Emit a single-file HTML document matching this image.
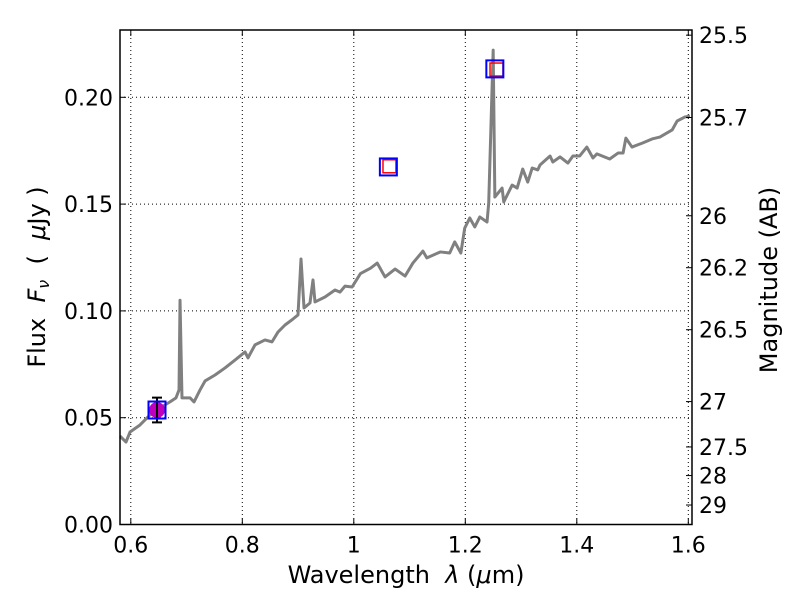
<!DOCTYPE html>
<html><head><meta charset="utf-8"><style>
body{margin:0;background:#fff;}
svg text{font-family:"DejaVu Sans","Liberation Sans",sans-serif;fill:#000;}
</style></head><body>
<svg id="chart" width="800" height="600" viewBox="0 0 800 600" xmlns="http://www.w3.org/2000/svg">
<rect width="800" height="600" fill="#fff"/>
<g id="grid"></g>
<g id="spec"></g>
<g id="phot"></g>
<g id="axes"></g>
<text x="406" y="583" font-size="24" text-anchor="middle" xml:space="preserve">Wavelength  <tspan font-style="italic">λ</tspan> (<tspan font-style="italic">μ</tspan>m)</text>
<text transform="translate(45,277) rotate(-90)" font-size="24" text-anchor="middle" xml:space="preserve">Flux  <tspan font-style="italic">F</tspan><tspan font-style="italic" font-size="16" dy="4">ν</tspan><tspan dy="-4">  (  </tspan><tspan font-style="italic">μ</tspan>Jy )</text>
<text transform="translate(777,280) rotate(-90)" font-size="24" text-anchor="middle">Magnitude (AB)</text>
</svg>
<script>
const specLam=[0.5806,0.5914,0.5986,0.6165,0.6344,0.6524,0.6703,0.6811,0.6865,0.6883,0.6918,0.7062,0.7134,0.7242,0.7332,0.7511,0.7690,0.7869,0.8049,0.8102,0.8228,0.8407,0.8533,0.8640,0.8766,0.8909,0.8999,0.9053,0.9107,0.9214,0.9268,0.9304,0.9483,0.9663,0.9753,0.9842,0.997,1.012,1.030,1.042,1.056,1.074,1.092,1.106,1.124,1.131,1.155,1.172,1.181,1.192,1.199,1.208,1.217,1.226,1.239,1.242,1.250,1.253,1.266,1.269,1.284,1.293,1.303,1.312,1.320,1.330,1.334,1.352,1.357,1.370,1.384,1.393,1.405,1.418,1.429,1.436,1.459,1.474,1.483,1.488,1.499,1.518,1.535,1.549,1.571,1.580,1.594,1.603];
const specFlux=[0.0414,0.0386,0.0433,0.0466,0.0513,0.0546,0.0574,0.0593,0.0630,0.1050,0.0593,0.0593,0.0574,0.0630,0.0672,0.0700,0.0733,0.0770,0.0808,0.0780,0.0841,0.0864,0.0855,0.0901,0.0934,0.0962,0.0981,0.1243,0.1014,0.1037,0.1145,0.1042,0.1065,0.1098,0.1088,0.1116,0.1112,0.1175,0.1200,0.1224,0.1159,0.1196,0.1163,0.1224,0.1280,0.1248,0.1276,0.1271,0.1323,0.1271,0.1388,0.1435,0.1393,0.1440,0.1416,0.1505,0.2221,0.1533,0.1575,0.1510,0.1589,0.1575,0.1664,0.1603,0.1669,0.1660,0.1683,0.1725,0.1697,0.1721,0.1692,0.1725,0.1725,0.1767,0.1716,0.1735,0.1711,0.1739,0.1739,0.1809,0.1767,0.1786,0.1805,0.1814,0.1847,0.1889,0.1908,0.1912];
const photLam=[0.647,1.062,1.253];
const photFlux=[0.0536,0.1674,0.2133];
const measLam=[0.647];
const measFlux=[0.0536];
const measErr=[0.0058];
const modelLam=[1.064,1.256];
const modelFlux=[0.1677,0.2130];
const xTicks=[0.6,0.8,1.0,1.2,1.4,1.6];
const xTickLabels=["0.6","0.8","1","1.2","1.4","1.6"];
const yTicks=[0,0.05,0.10,0.15,0.20];
const yTickLabels=["0.00","0.05","0.10","0.15","0.20"];
const magTicks=[25.5,25.7,26,26.2,26.5,27,27.5,28,29];
const magTickLabels=["25.5","25.7","26","26.2","26.5","27","27.5","28","29"];

const L=120,R=692,T=30,B=524.5;
const X=l=>130.8+(l-0.6)*557.5;
const Y=f=>B-f*2136;
const NS="http://www.w3.org/2000/svg";
function mk(p,tag,at){const e=document.createElementNS(NS,tag);for(const k in at)e.setAttribute(k,at[k]);p.appendChild(e);return e;}
const grid=document.getElementById('grid'),axes=document.getElementById('axes'),spec=document.getElementById('spec'),phot=document.getElementById('phot');
xTicks.forEach((v,i)=>{const x=X(v);
 const g=mk(grid,'line',{x1:x,x2:x,y1:T,y2:B,stroke:'#000','stroke-width':1,'stroke-dasharray':'1,3'});
 
 
 mk(axes,'line',{x1:x,x2:x,y1:B,y2:B-6,stroke:'#000'});
 mk(axes,'line',{x1:x,x2:x,y1:T,y2:T+6,stroke:'#000'});
 const t=mk(axes,'text',{x:x,y:B+28,'font-size':22,'text-anchor':'middle'});t.textContent=xTickLabels[i];
 
 
});
yTicks.forEach((v,i)=>{const y=Y(v);
 const g=mk(grid,'line',{x1:L,x2:R,y1:y,y2:y,stroke:'#000','stroke-width':1,'stroke-dasharray':'1,3'});
 
 
 mk(axes,'line',{x1:L,x2:L+6,y1:y,y2:y,stroke:'#000'});
 const t=mk(axes,'text',{x:L-7,y:y+8,'font-size':22,'text-anchor':'end'});t.textContent=yTickLabels[i];
 
 
});
magTicks.forEach((m,i)=>{const y=Y(Math.pow(10,(23.9-m)/2.5));
 mk(axes,'line',{x1:R,x2:R-6,y1:y,y2:y,stroke:'#000'});
 const t=mk(axes,'text',{x:R+7,y:y+8,'font-size':22});t.textContent=magTickLabels[i];
 
 
});
const fr=mk(axes,'rect',{x:L,y:T,width:R-L,height:B-T,fill:'none',stroke:'#000','stroke-width':1.5});


const pl=mk(spec,'polyline',{points:specLam.map((l,i)=>X(l)+','+Y(specFlux[i])).join(' '),fill:'none',stroke:'#808080','stroke-width':3,'stroke-linejoin':'round'});


measLam.forEach((l,i)=>{const x=X(l),y=Y(measFlux[i]),e=measErr[i]*2136;
 const c=mk(phot,'circle',{cx:x,cy:y,r:8,fill:'#bf00bf'});
 
 
 mk(phot,'line',{x1:x,x2:x,y1:y-e,y2:y+e,stroke:'#000','stroke-width':2});
 mk(phot,'line',{x1:x-5,x2:x+5,y1:y-e,y2:y-e,stroke:'#000','stroke-width':2});
 mk(phot,'line',{x1:x-5,x2:x+5,y1:y+e,y2:y+e,stroke:'#000','stroke-width':2});
});
modelLam.forEach((l,i)=>{const s=13;
 const r=mk(phot,'rect',{x:X(l)-s/2,y:Y(modelFlux[i])-s/2,width:s,height:s,fill:'none',stroke:'#ff0000','stroke-width':1.5});
 
 
});
photLam.forEach((l,i)=>{const s=17;
 const r=mk(phot,'rect',{x:X(l)-s/2,y:Y(photFlux[i])-s/2,width:s,height:s,fill:'none',stroke:'#0000ff','stroke-width':2});
 
 
});
</script>
</body></html>
